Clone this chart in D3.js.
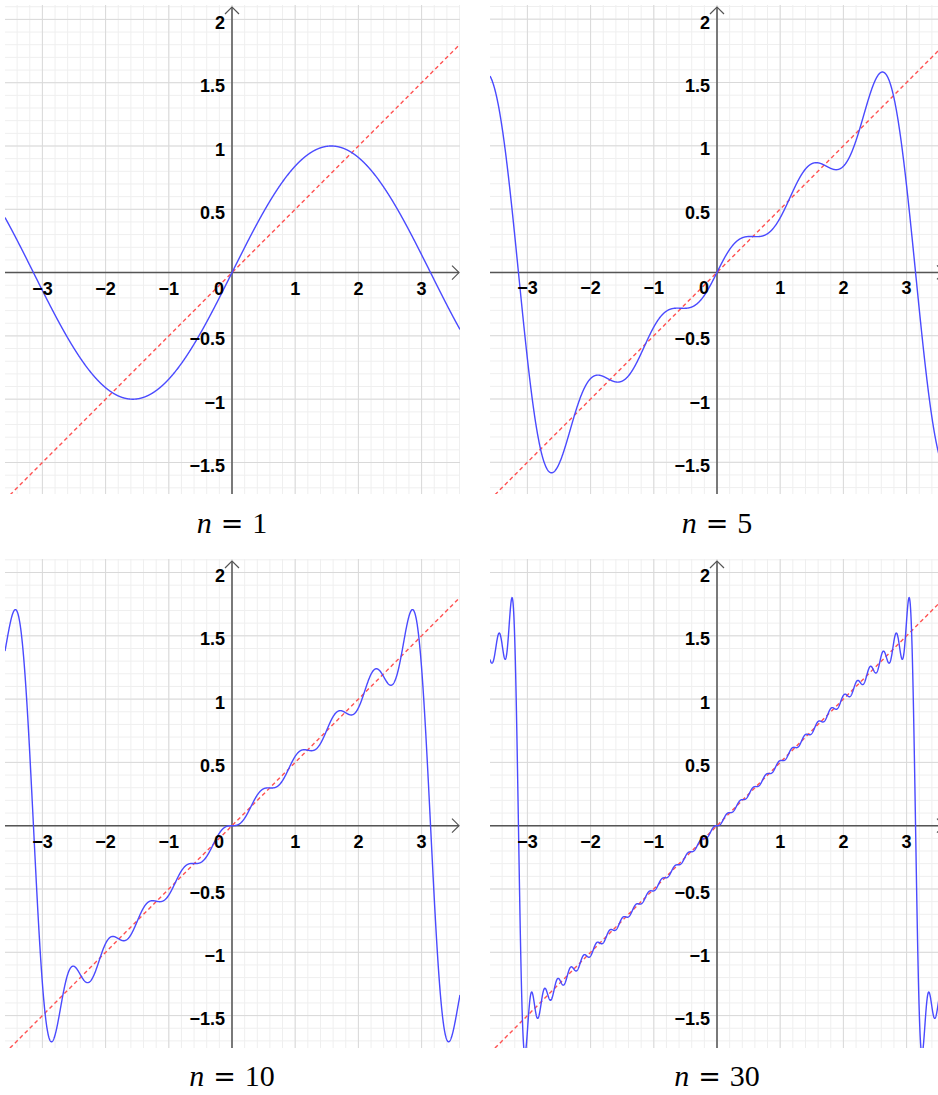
<!DOCTYPE html>
<html>
<head>
<meta charset="utf-8">
<script src="https://cdn.jsdelivr.net/npm/d3@7"></script>
<style>
  body { margin: 0; background: #fff; }
  svg { display: block; }
</style>
</head>
<body>
<svg></svg>
<script>
let svg = d3.select("svg").attr("width", 938).attr("height", 1095);

// number of terms in each partial sum, one per panel
let termCounts = [1, 5, 10, 30];
let xTicks = [-3, -2, -1, 0, 1, 2, 3];
let yTicks = [-1.5, -1, -0.5, 0.5, 1, 1.5, 2];
let xTickLabels = ["\u22123", "\u22122", "\u22121", "0", "1", "2", "3"];
let yTickLabels = ["\u22121.5", "\u22121", "\u22120.5", "0.5", "1", "1.5", "2"];

let aux = {
  unitX: 63.2,
  unitY: 126.6,
  w: 455,
  h: 489,
  offX: 227,
};

// panel boxes: left, top, origin y
let panels = [
  { left: 5, top: 5, oy: 272.6 },
  { left: 490, top: 5, oy: 272.4 },
  { left: 5, top: 559, oy: 825.7 },
  { left: 490, top: 559, oy: 825.7 },
];

// partial Fourier sum of x/2 on (-pi, pi)
function partial(n, x) {
  let s = 0;
  for (let k = 1; k <= n; k++) s += ((k % 2 ? 1 : -1) * Math.sin(k * x)) / k;
  return s;
}

let defs = svg.append("defs");

panels.forEach((p, idx) => {
  let n = termCounts[idx];
  let ox = p.left + aux.offX;
  let x = d3.scaleLinear().domain([0, 1]).range([ox, ox + aux.unitX]);
  let y = d3.scaleLinear().domain([0, 1]).range([p.oy, p.oy - aux.unitY]);
  let x0 = x.invert(p.left), x1 = x.invert(p.left + aux.w);
  let y0 = y.invert(p.top + aux.h), y1 = y.invert(p.top);

  defs.append("clipPath").attr("id", `clip${idx}`)
    .append("rect").attr("x", p.left).attr("y", p.top)
    .attr("width", aux.w).attr("height", aux.h);

  let g = svg.append("g");
  let grid = g.append("g").attr("clip-path", `url(#clip${idx})`);

  // minor grid
  let minorX = d3.range(Math.ceil(x0 / 0.2), Math.floor(x1 / 0.2) + 1).map((i) => i * 0.2);
  let minorY = d3.range(Math.ceil(y0 / 0.1), Math.floor(y1 / 0.1) + 1).map((i) => i * 0.1);
  grid.selectAll(".mx").data(minorX).join("line")
    .attr("x1", (d) => x(d)).attr("x2", (d) => x(d))
    .attr("y1", p.top).attr("y2", p.top + aux.h)
    .attr("stroke", "#efefef").attr("stroke-width", 1);
  grid.selectAll(".my").data(minorY).join("line")
    .attr("y1", (d) => y(d)).attr("y2", (d) => y(d))
    .attr("x1", p.left).attr("x2", p.left + aux.w)
    .attr("stroke", "#efefef").attr("stroke-width", 1);

  // major grid
  let majorX = d3.range(Math.ceil(x0), Math.floor(x1) + 1);
  let majorY = d3.range(Math.ceil(y0 / 0.5), Math.floor(y1 / 0.5) + 1).map((i) => i * 0.5);
  grid.selectAll(".Mx").data(majorX).join("line")
    .attr("x1", (d) => x(d)).attr("x2", (d) => x(d))
    .attr("y1", p.top).attr("y2", p.top + aux.h)
    .attr("stroke", "#d9d9d9").attr("stroke-width", 1);
  grid.selectAll(".My").data(majorY).join("line")
    .attr("y1", (d) => y(d)).attr("y2", (d) => y(d))
    .attr("x1", p.left).attr("x2", p.left + aux.w)
    .attr("stroke", "#d9d9d9").attr("stroke-width", 1);

  // axes with open arrow heads
  let axisCol = "#555";
  let xr = p.left + aux.w - 1;
  g.append("line").attr("x1", p.left).attr("x2", xr)
    .attr("y1", p.oy).attr("y2", p.oy).attr("stroke", axisCol).attr("stroke-width", 1.5);
  g.append("path").attr("d", `M${xr - 7},${p.oy - 7}L${xr},${p.oy}L${xr - 7},${p.oy + 7}`)
    .attr("fill", "none").attr("stroke", axisCol).attr("stroke-width", 1.2);
  let yt = p.top + 2;
  g.append("line").attr("x1", ox).attr("x2", ox)
    .attr("y1", p.top + aux.h).attr("y2", yt).attr("stroke", axisCol).attr("stroke-width", 1.5);
  g.append("path").attr("d", `M${ox - 7},${yt + 7}L${ox},${yt}L${ox + 7},${yt + 7}`)
    .attr("fill", "none").attr("stroke", axisCol).attr("stroke-width", 1.2);

  // curves
  let curves = g.append("g").attr("clip-path", `url(#clip${idx})`);
  let xs = d3.range(0, 2401).map((i) => x0 + ((x1 - x0) * i) / 2400);
  let line = d3.line().x((d) => x(d[0])).y((d) => y(d[1]));
  curves.append("path")
    .datum([[x0, x0 / 2], [x1, x1 / 2]])
    .attr("d", line)
    .attr("fill", "none").attr("stroke", "#ff5252").attr("stroke-width", 1.4)
    .attr("stroke-dasharray", "4,3");
  curves.append("path")
    .datum(xs.map((v) => [v, partial(n, v)]))
    .attr("d", line)
    .attr("fill", "none").attr("stroke", "#4a4aff").attr("stroke-width", 1.4);

  // tick labels
  let font = "'Liberation Sans', Arial, sans-serif";
  g.selectAll(".xl").data(xTicks).join("text")
    .attr("x", (d) => (d === 0 ? x(d) - 13 : x(d)))
    .attr("y", p.oy + 22)
    .attr("text-anchor", "middle")
    .attr("font-family", font).attr("font-weight", "bold").attr("font-size", 18)
    .text((d, i) => xTickLabels[i]);
  g.selectAll(".yl").data(yTicks).join("text")
    .attr("x", ox - 7)
    .attr("y", (d) => y(d) + 9.5)
    .attr("text-anchor", "end")
    .attr("font-family", font).attr("font-weight", "bold").attr("font-size", 18)
    .text((d, i) => yTickLabels[i]);

  // panel caption
  let serif = "'Liberation Serif', 'DejaVu Serif', serif";
  let cap = svg.append("text")
    .attr("x", ox).attr("y", p.oy + 260.5)
    .attr("text-anchor", "middle")
    .attr("font-family", serif)
    .attr("font-size", 30);
  cap.append("tspan").attr("font-style", "italic").text("n");
  cap.append("tspan").attr("dx", 9).attr("font-family", "'DejaVu Serif', serif")
    .attr("font-size", 27).text("=");
  cap.append("tspan").attr("dx", 9).text(n);
});
</script>
</body>
</html>
